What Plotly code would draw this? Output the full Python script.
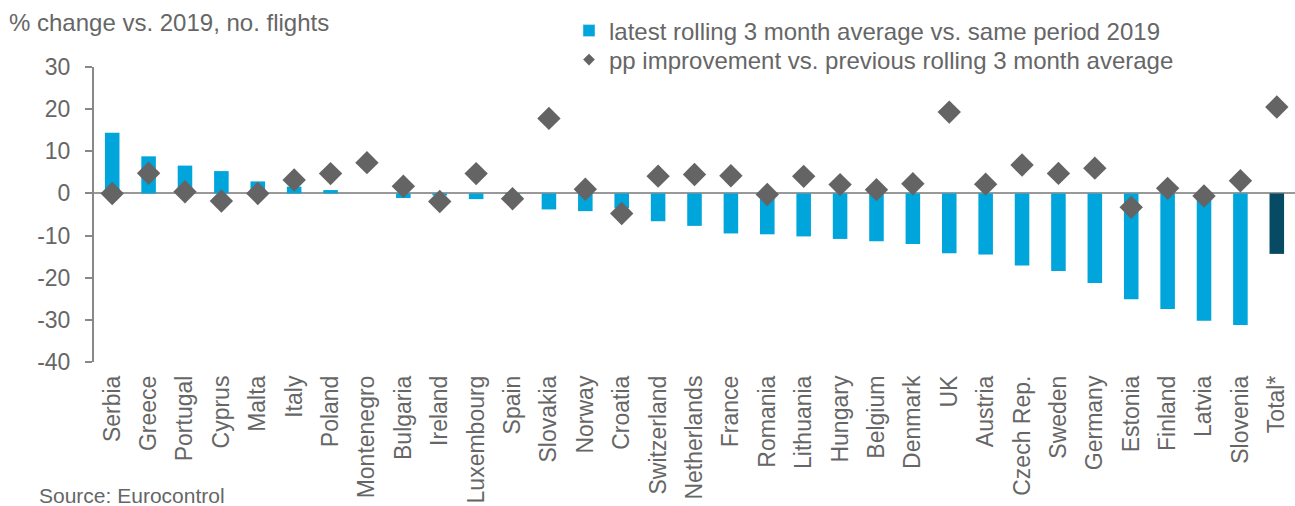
import plotly.graph_objects as go

categories = ["Serbia", "Greece", "Portugal", "Cyprus", "Malta", "Italy", "Poland",
              "Montenegro", "Bulgaria", "Ireland", "Luxembourg", "Spain", "Slovakia",
              "Norway", "Croatia", "Switzerland", "Netherlands", "France", "Romania",
              "Lithuania", "Hungary", "Belgium", "Denmark", "UK", "Austria", "Czech Rep.",
              "Sweden", "Germany", "Estonia", "Finland", "Latvia", "Slovenia", "Total*"]

latest_vs_2019 = [14.4, 8.8, 6.6, 5.3, 2.85, 1.6, 0.8, 0.0, -1.1, -0.5, -1.35, -0.2,
                  -3.8, -4.2, -3.5, -6.6, -7.7, -9.5, -9.7, -10.2, -10.8, -11.35, -12.0,
                  -14.2, -14.5, -17.1, -18.4, -21.25, -25.1, -27.4, -30.2, -31.2, -14.35]

pp_improvement = [0.0, 4.8, 0.4, -1.8, 0.0, 3.2, 4.7, 7.3, 1.7, -1.9, 4.7, -1.25, 17.8,
                  1.0, -4.75, 4.1, 4.5, 4.2, -0.25, 4.05, 2.1, 0.9, 2.3, 19.3, 2.2, 6.75,
                  4.75, 6.0, -3.3, 1.2, -0.6, 3.0, 20.5]

y_ticks = [30, 20, 10, 0, -10, -20, -30, -40]
y_tick_labels = ["30", "20", "10", "0", "-10", "-20", "-30", "-40"]

BLUE = "#00A6DB"
DARK = "#064A63"
GREY = "#646464"
TEXT = "#666666"
FONT = "Liberation Sans, Arial, sans-serif"

W, H = 1295, 506
L, R, T, B = 94, 0, 67, 144
PW, PH = W - L - R, H - T - B


def px_x(x):
    return (x - L) / PW


def px_y(y):
    return (H - B - y) / PH


bar_colors = [DARK if c == "Total*" else BLUE for c in categories]

fig = go.Figure()
fig.add_trace(go.Bar(x=categories, y=latest_vs_2019, marker=dict(color=bar_colors, line=dict(width=0)),
                     width=0.4, showlegend=False))
fig.add_trace(go.Scatter(x=categories, y=pp_improvement, mode="markers",
                         marker=dict(symbol="diamond", size=18, color=GREY, line=dict(width=0)),
                         showlegend=False))
# legend entries
fig.add_trace(go.Bar(x=[None], y=[None], marker=dict(color=BLUE), legend="legend",
                     name="latest rolling 3 month average vs. same period 2019"))
fig.add_trace(go.Scatter(x=[None], y=[None], mode="markers", legend="legend2",
                         marker=dict(symbol="diamond", size=9, color=GREY),
                         name="pp improvement vs. previous rolling 3 month average"))

leg_common = dict(xref="paper", yref="paper", xanchor="left", yanchor="middle",
                  font=dict(size=24, color=TEXT), bgcolor="rgba(0,0,0,0)",
                  itemsizing="trace", borderwidth=0)

fig.update_layout(
    width=W, height=H,
    margin=dict(l=L, r=R, t=T, b=B, autoexpand=False),
    paper_bgcolor="white", plot_bgcolor="white",
    font=dict(family=FONT, color=TEXT, size=23),
    legend=dict(x=px_x(569), y=px_y(31), **leg_common),
    legend2=dict(x=px_x(569), y=px_y(60), **leg_common),
    xaxis=dict(type="category", range=[-0.5, len(categories) - 0.5], showgrid=False,
               showline=False, ticks="", tickangle=-90, tickfont=dict(size=23, color=TEXT),
               ticklabelstandoff=8, automargin=False),
    yaxis=dict(range=[-40, 30], tickvals=y_ticks, ticktext=y_tick_labels, showgrid=False,
               showline=True, linecolor="#888888", linewidth=2, ticks="outside", ticklen=7,
               tickwidth=2, tickcolor="#888888", zeroline=True, zerolinecolor="#999999",
               zerolinewidth=2, tickfont=dict(size=23, color=TEXT), ticklabelstandoff=10,
               automargin=False),
    annotations=[
        dict(text="% change vs. 2019, no. flights", xref="paper", yref="paper",
             x=px_x(7), y=px_y(23), showarrow=False, font=dict(size=24, color=TEXT),
             xanchor="left", yanchor="middle"),
        dict(text="Source: Eurocontrol", xref="paper", yref="paper",
             x=px_x(37), y=px_y(495), showarrow=False, font=dict(size=21, color=TEXT),
             xanchor="left", yanchor="middle"),
    ],
)

fig.write_html("out.html")
